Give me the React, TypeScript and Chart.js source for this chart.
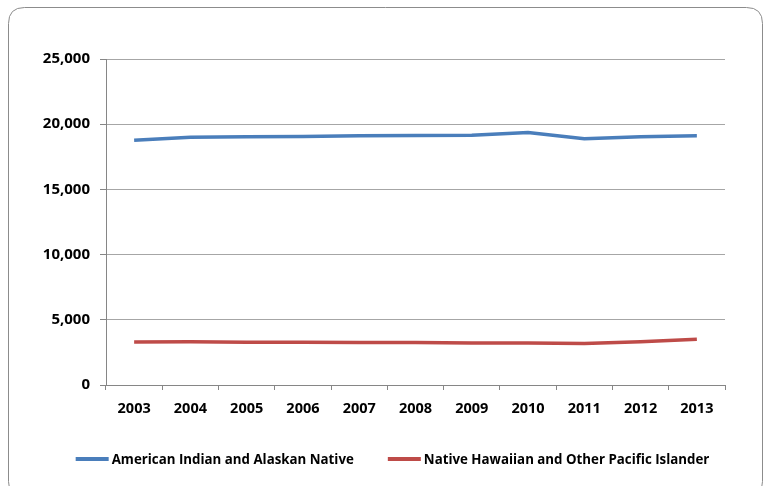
import React, { useEffect, useRef } from "react";
import { Chart, registerables } from "chart.js";

Chart.register(...registerables);

const years = ["2003", "2004", "2005", "2006", "2007", "2008", "2009", "2010", "2011", "2012", "2013"];
const americanIndian = [18760, 19000, 19030, 19060, 19110, 19130, 19160, 19370, 18880, 19040, 19110];
const nativeHawaiian = [3300, 3310, 3280, 3270, 3260, 3250, 3220, 3220, 3190, 3320, 3510];
const seriesNames = ["American Indian and Alaskan Native", "Native Hawaiian and Other Pacific Islander"];
const seriesColors = ["#4A7EBB", "#BE4B48"];
const yTickValues = [0, 5000, 10000, 15000, 20000, 25000];

const FONT = "'Open Sans', Lato, sans-serif";

const framePlugin = {
  id: "frame",
  beforeDraw(chart: any) {
    const ctx = chart.ctx;
    ctx.save();
    ctx.fillStyle = "#ffffff";
    ctx.fillRect(0, 0, chart.width, chart.height);
    const x = 8.5, y = 7.5, w = 754, h = 490, r = 16;
    ctx.beginPath();
    ctx.moveTo(x + r, y);
    ctx.lineTo(x + w - r, y);
    ctx.quadraticCurveTo(x + w, y, x + w, y + r);
    ctx.lineTo(x + w, y + h - r);
    ctx.quadraticCurveTo(x + w, y + h, x + w - r, y + h);
    ctx.lineTo(x + r, y + h);
    ctx.quadraticCurveTo(x, y + h, x, y + h - r);
    ctx.lineTo(x, y + r);
    ctx.quadraticCurveTo(x, y, x + r, y);
    ctx.closePath();
    ctx.strokeStyle = "#8c8c8c";
    ctx.lineWidth = 1;
    ctx.stroke();
    ctx.restore();
  },
};

const legendPlugin = {
  id: "customLegend",
  afterDraw(chart: any) {
    const ctx = chart.ctx;
    ctx.save();
    ctx.font = `bold 13.3px ${FONT}`;
    ctx.textBaseline = "middle";
    ctx.textAlign = "left";
    const lineLen = 33, gapText = 3, gapItem = 34;
    const widths = chart.data.datasets.map((ds: any) => ctx.measureText(ds.label).width);
    const total = widths.reduce((a: number, w: number) => a + lineLen + gapText + w, 0) + gapItem * (widths.length - 1);
    let x = chart.width / 2 + 10 - total / 2;
    const y = 459;
    chart.data.datasets.forEach((ds: any, i: number) => {
      ctx.strokeStyle = ds.borderColor;
      ctx.lineWidth = 4;
      ctx.beginPath();
      ctx.moveTo(x, y);
      ctx.lineTo(x + lineLen, y);
      ctx.stroke();
      x += lineLen + gapText;
      ctx.fillStyle = "#000";
      ctx.fillText(ds.label, x, y + 1);
      x += widths[i] + gapItem;
    });
    ctx.restore();
  },
};

export default function App() {
  const ref = useRef<HTMLCanvasElement | null>(null);
  useEffect(() => {
    if (!ref.current) return;
    const chart = new Chart(ref.current, {
      type: "line",
      data: {
        labels: years,
        datasets: [americanIndian, nativeHawaiian].map((d, i) => ({
          label: seriesNames[i],
          data: d,
          borderColor: seriesColors[i],
          backgroundColor: seriesColors[i],
          borderWidth: 3.5,
          pointRadius: 0,
          tension: 0,
        })),
      },
      options: {
        responsive: false,
        animation: false,
        layout: { padding: { top: 59, right: 40, left: 0, bottom: 61 } },
        plugins: {
          tooltip: { enabled: false },
          legend: { display: false },
        },
        scales: {
          x: {
            offset: true,
            grid: {
              offset: true,
              drawOnChartArea: false,
              drawTicks: true,
              tickLength: 5,
              tickColor: "#868686",
            },
            border: { color: "#868686", width: 1 },
            ticks: {
              color: "#000",
              padding: 10,
              maxRotation: 0,
              font: { family: FONT, weight: "bold", size: 14.5 },
            },
            afterFit: (s: any) => {
              s.height = 40;
            },
          },
          y: {
            min: 0,
            max: 25000,
            afterBuildTicks: (s: any) => {
              s.ticks = yTickValues.map((v) => ({ value: v }));
            },
            grid: {
              color: "#a6a6a6",
              drawTicks: true,
              tickLength: 6,
              tickColor: "#868686",
            },
            border: { color: "#868686", width: 1 },
            ticks: {
              color: "#000",
              padding: 10,
              font: { family: FONT, weight: "bold", size: 15 },
              callback: (v: any) => Number(v).toLocaleString("en-US"),
            },
            afterFit: (s: any) => {
              s.width = 106;
            },
          },
        },
      },
      plugins: [framePlugin, legendPlugin],
    } as any);
    return () => chart.destroy();
  }, []);
  return (
    <div style={{ position: "absolute", left: 0, top: 0, width: 765, height: 486 }}>
      <canvas ref={ref} width={765} height={486} />
    </div>
  );
}
